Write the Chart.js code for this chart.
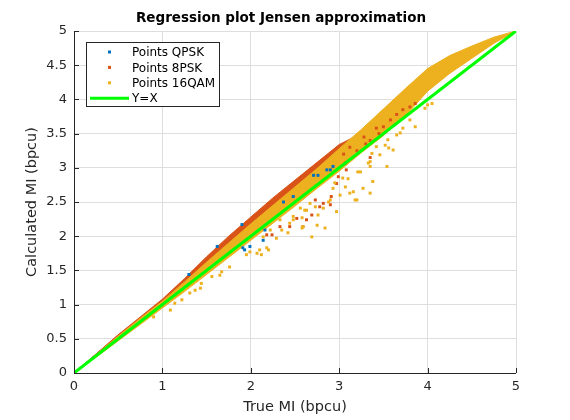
<!DOCTYPE html>
<html>
<head>
<meta charset="utf-8">
<script src="https://cdn.jsdelivr.net/npm/chart.js@4/dist/chart.umd.min.js"></script>
<style>
  html, body { margin: 0; padding: 0; background: #fff; }
  canvas { display: block; }
</style>
</head>
<body>
<canvas id="regPlot" width="570" height="420"></canvas>
<script>
// dense band outlines (true MI -> calculated MI)
var band16X     = [0, 0.25, 0.5, 0.75, 1, 1.25, 1.5, 1.75, 2, 2.25, 2.5, 2.75, 3, 3.25, 3.5, 3.75, 4, 4.25, 4.5, 4.75, 5];
var band16Upper = [0, 0.27, 0.54, 0.80, 1.05, 1.33, 1.62, 1.90, 2.18, 2.45, 2.72, 2.99, 3.28, 3.56, 3.86, 4.16, 4.45, 4.64, 4.78, 4.91, 5];
var band16Lower = [0, 0.23, 0.47, 0.71, 0.95, 1.19, 1.44, 1.69, 1.94, 2.19, 2.44, 2.70, 2.95, 3.22, 3.47, 3.76, 4.12, 4.38, 4.60, 4.82, 5];

var band8X     = [0, 0.25, 0.5, 0.75, 1, 1.25, 1.5, 1.75, 2, 2.25, 2.5, 2.75, 3, 3.2];
var band8Upper = [0, 0.28, 0.56, 0.82, 1.08, 1.38, 1.70, 2.00, 2.28, 2.56, 2.82, 3.08, 3.34, 3.47];
var band8Lower = [0, 0.24, 0.48, 0.73, 0.98, 1.23, 1.48, 1.72, 1.97, 2.22, 2.47, 2.72, 2.97, 3.25];

var bandQX     = [0, 0.5, 1, 1.5, 2];
var bandQUpper = [0, 0.55, 1.06, 1.66, 2.24];
var bandQLower = [0, 0.49, 0.99, 1.49, 1.98];

// scattered points outside the dense bands
var qam16X = [3.86, 3.80, 3.69, 3.55, 3.61, 3.52, 3.38, 3.35, 3.21, 3.27, 3.35, 3.18, 3.16, 3.04, 3.07, 3.01, 2.93, 2.90, 2.82, 2.76,
              2.84, 2.75, 2.67, 2.61, 2.58, 2.69, 2.58, 2.48, 2.44, 2.42, 2.35, 2.33, 2.25, 2.29, 2.22, 2.14, 2.12, 2.18, 1.99, 1.76,
              4.05, 4.00, 3.97, 3.72, 3.65, 3.56, 3.46, 3.37, 3.35, 3.54, 3.42,
              2.07, 2.10, 2.20, 1.95, 1.67, 1.65, 1.56, 1.44, 1.43, 1.37, 1.31, 1.22, 1.14, 1.09, 0.90,
              3.33, 3.24, 3.20, 3.12, 2.97, 2.88, 2.73, 2.63, 2.56, 2.48, 2.59, 3.10, 2.95];
var qam16Y = [3.60, 3.70, 3.51, 3.41, 3.26, 3.33, 2.80, 3.02, 2.94, 2.70, 2.63, 2.53, 2.65, 2.85, 2.72, 2.60, 2.70, 2.53, 2.41, 2.31,
              2.12, 2.16, 2.48, 2.38, 2.27, 1.99, 2.12, 2.29, 2.19, 2.05, 2.09, 2.24, 2.24, 1.97, 2.09, 1.99, 1.73, 1.83, 1.77, 1.55,
              3.94, 3.92, 3.87, 3.58, 3.48, 3.29, 3.19, 3.21, 3.09, 3.02, 3.31,
              1.75, 1.80, 1.80, 1.73, 1.48, 1.43, 1.41, 1.31, 1.24, 1.21, 1.17, 1.07, 1.02, 0.92, 0.82,
              3.07, 2.94, 2.53, 2.63, 2.36, 2.50, 2.43, 2.38, 2.41, 2.24, 2.14, 2.84, 2.78];

var psk8X = [2.97, 2.99, 2.90, 2.82, 2.73, 2.63, 2.59, 2.52, 2.44, 2.33, 2.24, 2.18, 3.08, 3.07, 3.35,
             3.05, 3.12, 3.20, 3.28, 3.35, 3.42, 3.50, 3.58, 3.65, 3.72, 3.80, 3.30, 3.45, 3.86,
             2.91, 2.78, 2.69];
var psk8Y = [2.77, 2.87, 2.46, 2.48, 2.53, 2.24, 2.14, 2.26, 2.14, 2.14, 2.02, 2.02, 2.97, 3.07, 3.15,
             3.20, 3.30, 3.25, 3.45, 3.40, 3.58, 3.60, 3.70, 3.78, 3.85, 3.89, 3.35, 3.50, 3.94,
             2.58, 2.43, 2.31];

var qpskX = [1.30, 1.62, 1.90, 1.91, 1.93, 1.99, 2.14, 2.16, 2.37, 2.48, 2.71, 2.76, 2.86, 2.90, 2.93];
var qpskY = [1.44, 1.85, 2.17, 1.83, 1.80, 1.85, 1.94, 2.09, 2.50, 2.58, 2.89, 2.89, 2.97, 2.97, 3.02];

var lineX = [0, 5];
var lineY = [0, 5];

var xTicks = [0, 1, 2, 3, 4, 5];
var yTicks = [0, 0.5, 1, 1.5, 2, 2.5, 3, 3.5, 4, 4.5, 5];

var cBlue = '#0072BD', cRed = '#D95319', cOrange = '#EDB120', cGreen = '#00FF00';
var axisCol = '#262626';

function pts(xs, ys) {
    return xs.map(function (x, i) { return {x: x, y: ys[i]}; });
}

// closed outline: along the upper edge, then back along the lower edge
function band(xs, up, lo, col, order) {
    var outline = pts(xs, up).concat(pts(xs, lo).reverse());
    return {
        type: 'line', data: outline, borderColor: col, backgroundColor: col,
        borderWidth: 1, pointRadius: 0, fill: 'shape', order: order, tension: 0
    };
}

function scatter(label, xs, ys, col, order) {
    return {
        label: label, data: pts(xs, ys), backgroundColor: col, borderColor: col,
        pointStyle: 'rect', pointRadius: 2.1, pointBorderWidth: 0, order: order
    };
}

// axes lines with inward ticks plus the matlab style legend box
var matlabAxes = {
    id: 'matlabAxes',
    afterDraw: function (chart) {
        var ctx = chart.ctx, a = chart.chartArea;
        var xs = chart.scales.x, ys = chart.scales.y;
        ctx.save();
        ctx.strokeStyle = axisCol;
        ctx.lineWidth = 1;
        ctx.beginPath();
        ctx.moveTo(a.left + 0.5, a.top);
        ctx.lineTo(a.left + 0.5, a.bottom + 0.5);
        ctx.lineTo(a.right, a.bottom + 0.5);
        xTicks.forEach(function (t) {
            var px = Math.round(xs.getPixelForValue(t)) + 0.5;
            ctx.moveTo(px, a.bottom);
            ctx.lineTo(px, a.bottom - 5);
        });
        yTicks.forEach(function (t) {
            var py = Math.round(ys.getPixelForValue(t)) + 0.5;
            ctx.moveTo(a.left, py);
            ctx.lineTo(a.left + 5, py);
        });
        ctx.stroke();

        // legend
        var bx = 86.5, by = 42.5, bw = 133, bh = 64;
        ctx.fillStyle = '#fff';
        ctx.fillRect(bx, by, bw, bh);
        ctx.strokeStyle = axisCol;
        ctx.strokeRect(bx, by, bw, bh);
        var items = chart.data.datasets.filter(function (d) { return d.label; });
        ctx.font = '12px "DejaVu Sans"';
        ctx.textBaseline = 'middle';
        items.forEach(function (d, i) {
            var ry = 52 + i * 15.4;
            if (d.showLine) {
                ctx.strokeStyle = d.borderColor;
                ctx.lineWidth = 3;
                ctx.beginPath();
                ctx.moveTo(90, ry);
                ctx.lineTo(129, ry);
                ctx.stroke();
            } else {
                ctx.fillStyle = d.backgroundColor;
                ctx.fillRect(108, ry - 1.5, 3, 3);
            }
            ctx.fillStyle = '#000';
            ctx.fillText(d.label, 132, ry + 1);
        });
        ctx.restore();
    }
};

Chart.defaults.font.family = '"DejaVu Sans", sans-serif';
Chart.defaults.color = axisCol;

new Chart(document.getElementById('regPlot'), {
    type: 'scatter',
    data: {
        datasets: [
            scatter('Points QPSK', qpskX, qpskY, cBlue, 3),
            scatter('Points 8PSK', psk8X, psk8Y, cRed, 2),
            scatter('Points 16QAM', qam16X, qam16Y, cOrange, 1),
            {
                label: 'Y=X', type: 'line', data: pts(lineX, lineY), showLine: true,
                borderColor: cGreen, backgroundColor: cGreen, borderWidth: 3,
                pointRadius: 0, fill: false, order: 0
            },
            band(band16X, band16Upper, band16Lower, cOrange, 4),
            band(band8X, band8Upper, band8Lower, cRed, 5),
            band(bandQX, bandQUpper, bandQLower, cBlue, 6)
        ]
    },
    options: {
        responsive: false,
        animation: false,
        layout: { padding: { right: 8, left: 0, bottom: 0, top: 0 } },
        plugins: {
            legend: { display: false },
            tooltip: { enabled: false },
            title: {
                display: true,
                text: 'Regression plot Jensen approximation',
                color: '#000',
                font: { size: 13.5, weight: 'bold' },
                padding: { top: 10, bottom: 4.8 }
            }
        },
        scales: {
            x: {
                type: 'linear', min: 0, max: 5,
                afterFit: function (s) { s.height = 47; },
                afterBuildTicks: function (s) { s.ticks = xTicks.map(function (v) { return {value: v}; }); },
                grid: { color: '#dedede', drawTicks: false },
                border: { display: false },
                ticks: { padding: 6, font: { size: 13 }, maxRotation: 0, callback: function (v) { return String(v); } },
                title: { display: true, text: 'True MI (bpcu)', font: { size: 14.5 }, padding: { top: 7 } }
            },
            y: {
                type: 'linear', min: 0, max: 5,
                afterFit: function (s) { s.width = 74; },
                afterBuildTicks: function (s) { s.ticks = yTicks.map(function (v) { return {value: v}; }); },
                grid: { color: '#dedede', drawTicks: false },
                border: { display: false },
                ticks: { padding: 7, font: { size: 13 }, callback: function (v) { return String(v); } },
                title: { display: true, text: 'Calculated MI (bpcu)', font: { size: 14.5 }, padding: { top: 24 } }
            },
            // empty right margin so the title centres like the reference
            yRight: {
                type: 'linear', position: 'right', display: true,
                afterFit: function (s) { s.width = 46; },
                grid: { display: false, drawOnChartArea: false },
                border: { display: false },
                ticks: { display: false }
            }
        }
    },
    plugins: [matlabAxes]
});
</script>
</body>
</html>
